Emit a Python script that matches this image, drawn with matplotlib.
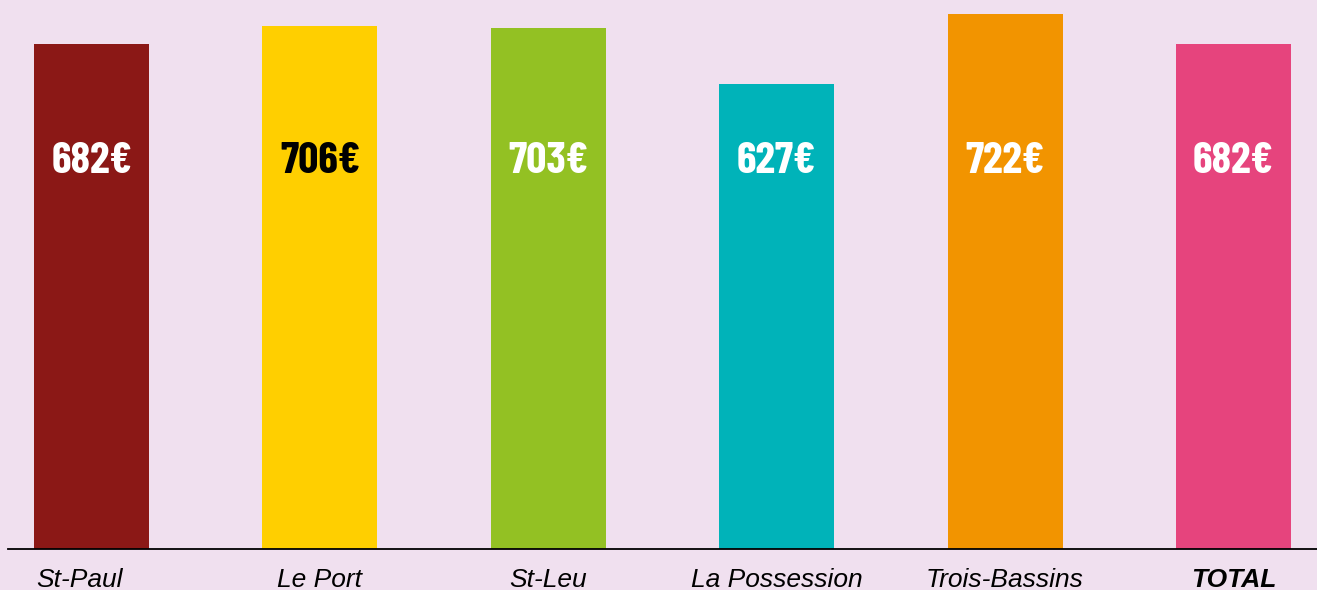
import matplotlib.pyplot as plt
from matplotlib.transforms import blended_transform_factory

# дані з діаграми
communes = ['St-Paul', 'Le Port', 'St-Leu', 'La Possession', 'Trois-Bassins', 'TOTAL']
montants = [682, 706, 703, 627, 722, 682]
etiquettes = ['682€', '706€', '703€', '627€', '722€', '682€']
couleurs = ['#8B1816', '#FFCF00', '#93C123', '#00B3B9', '#F29400', '#E6447D']
couleurs_texte = ['white', 'black', 'white', 'white', 'white', 'white']

fond = '#F0E0EF'

fig = plt.figure(figsize=(13.17, 5.90), dpi=100, facecolor=fond)
ax = fig.add_axes([8 / 1317, 41 / 590, 1 - 8 / 1317, 549 / 590])
ax.set_facecolor(fond)

pos = list(range(len(communes)))
ax.bar(pos, montants, width=0.5035, color=couleurs, zorder=2)

# підписи значень всередині стовпців
for x, lab, c in zip(pos, etiquettes, couleurs_texte):
    ax.text(x, 507, lab, ha='center', va='baseline', color=c, fontsize=32,
            fontweight='bold', family=['Barlow Condensed', 'DejaVu Sans'])

ax.set_xlim(-0.366, 5.366)
ax.set_ylim(0, 741)

# назви під віссю (St-Paul трохи зсунутий вліво)
trans = blended_transform_factory(ax.transData, ax.transAxes)
for i, nom in enumerate(communes):
    dx = -0.055 if i == 0 else 0
    ax.text(i + dx, -0.0692, nom, transform=trans, ha='center', va='baseline',
            fontsize=19, style='italic',
            fontweight='bold' if nom == 'TOTAL' else 'normal',
            family=['Liberation Sans', 'DejaVu Sans'], clip_on=False)

ax.set_xticks([])
ax.set_yticks([])

for s in ['top', 'right', 'left']:
    ax.spines[s].set_visible(False)
ax.spines['bottom'].set_linewidth(1.3)
ax.spines['bottom'].set_color('black')

fig.savefig('out.png', dpi=100, facecolor=fond)
